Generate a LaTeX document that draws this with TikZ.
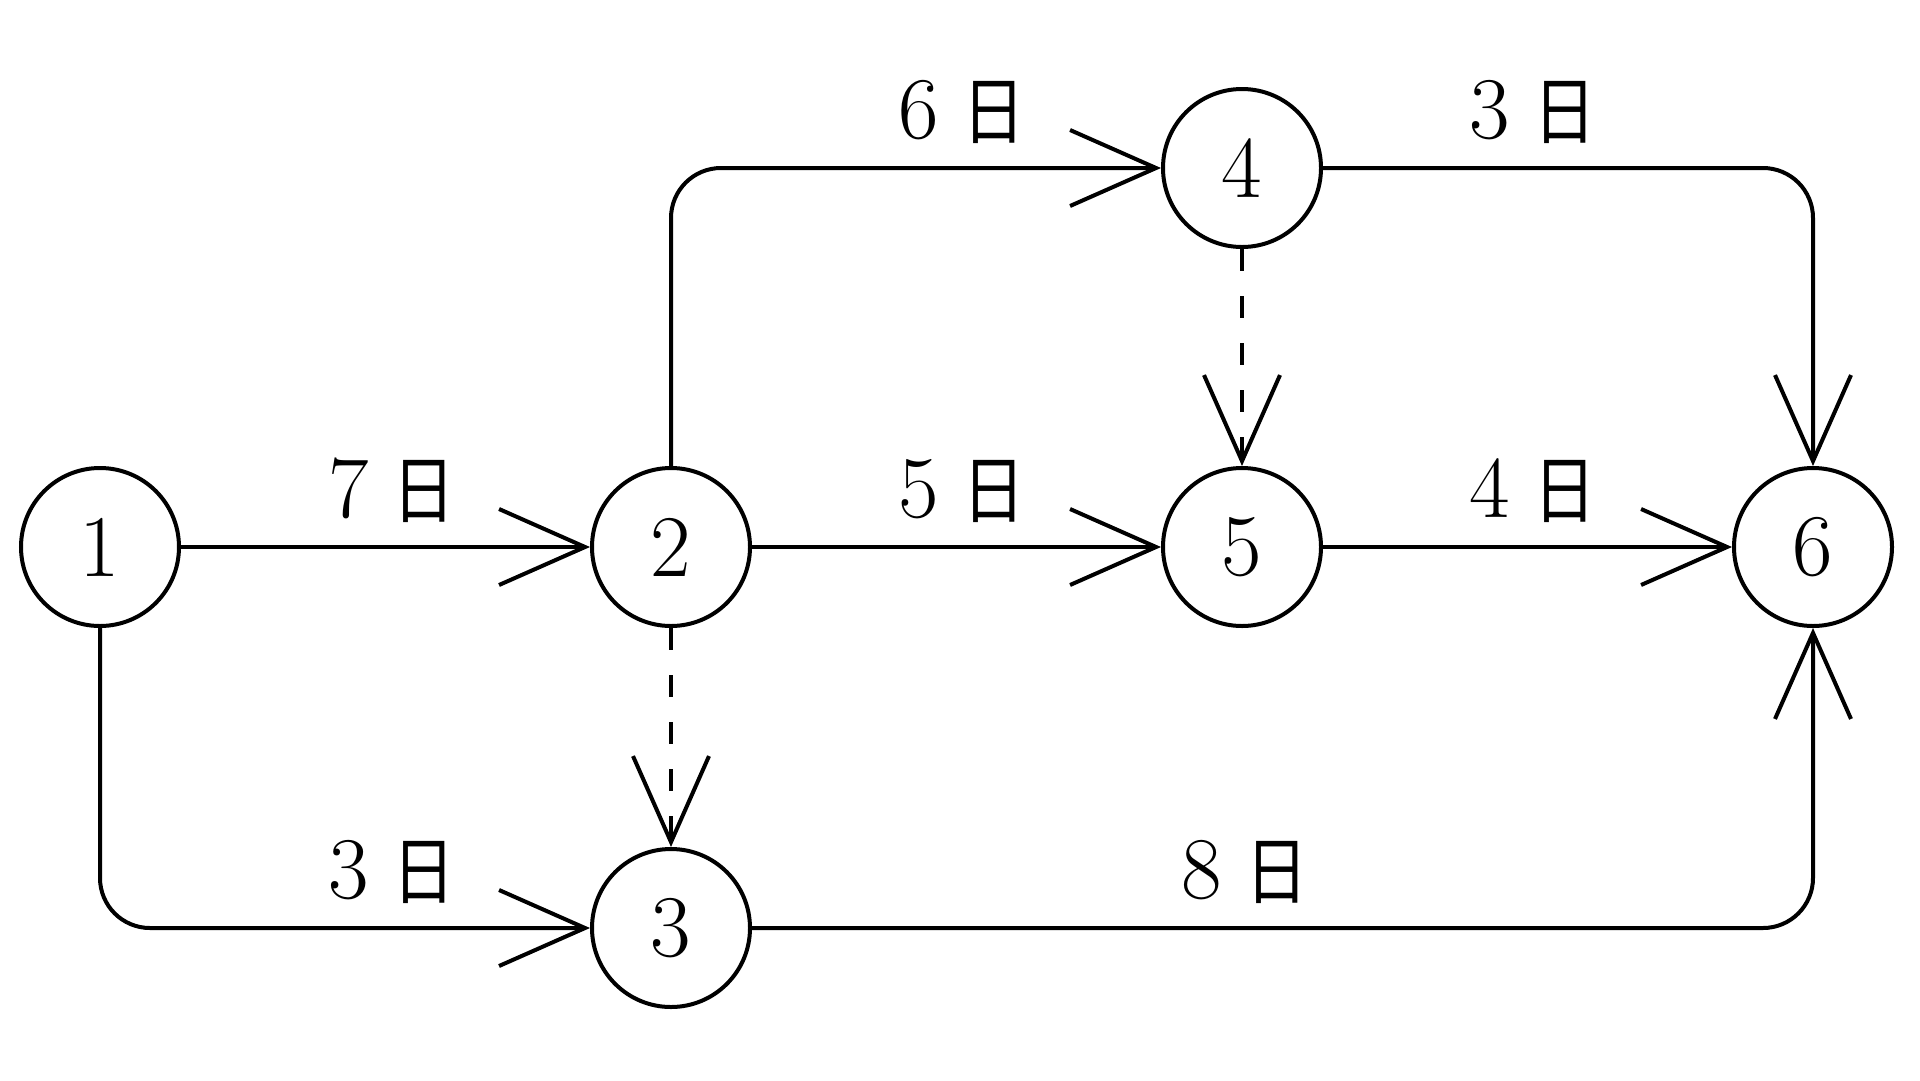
\documentclass[tikz,border=0pt]{standalone}
\usepackage{fontspec}
\newfontfamily\cjk{Noto Sans CJK SC}
\usetikzlibrary{arrows.meta}
\newcommand\riDay{\scalebox{0.85}[1]{\cjk\fontsize{74}{80}\selectfont 日}}
\begin{document}
\begin{tikzpicture}[x=1pt,y=-1pt,
  ev/.style={circle,draw,line width=4pt,minimum size=158pt,inner sep=0pt,font=\fontsize{88}{90}\selectfont},
  act/.style={line width=4pt,-{Straight Barb[length=86pt,width=76pt]}},
  dummy/.style={act,dash pattern=on 22pt off 25pt},
  lbl/.style={font=\fontsize{88}{90}\selectfont,inner sep=0pt,anchor=base}]
\useasboundingbox (0,0) rectangle (1920,1080);
\node[ev] (n1) at (100,547) {1};
\node[ev] (n2) at (671,547) {2};
\node[ev] (n3) at (671,928) {3};
\node[ev] (n4) at (1242,168) {4};
\node[ev] (n5) at (1242,547) {5};
\node[ev] (n6) at (1813,547) {6};
\draw[act] (n1) -- (n2);
\draw[act] (n2) -- (n5);
\draw[act] (n5) -- (n6);
\draw[act,rounded corners=50pt] (n2.north) |- (n4.west);
\draw[act,rounded corners=50pt] (n4.east) -| (n6.north);
\draw[act,rounded corners=50pt] (n1.south) |- (n3.west);
\draw[act,rounded corners=50pt] (n3.east) -| (n6.south);
\draw[dummy] (n4) -- (n5);
\draw[dummy] (n2) -- (n3);
\node[lbl] (l12) at (392,517) {7\hspace{24pt}\riDay};
\node[lbl] (l24) at (962,138) {6\hspace{24pt}\riDay};
\node[lbl] (l46) at (1533,138) {3\hspace{24pt}\riDay};
\node[lbl] (l25) at (962,517) {5\hspace{24pt}\riDay};
\node[lbl] (l56) at (1533,517) {4\hspace{24pt}\riDay};
\node[lbl] (l13) at (392,898) {3\hspace{24pt}\riDay};
\node[lbl] (l36) at (1245,898) {8\hspace{24pt}\riDay};
\end{tikzpicture}
\end{document}
